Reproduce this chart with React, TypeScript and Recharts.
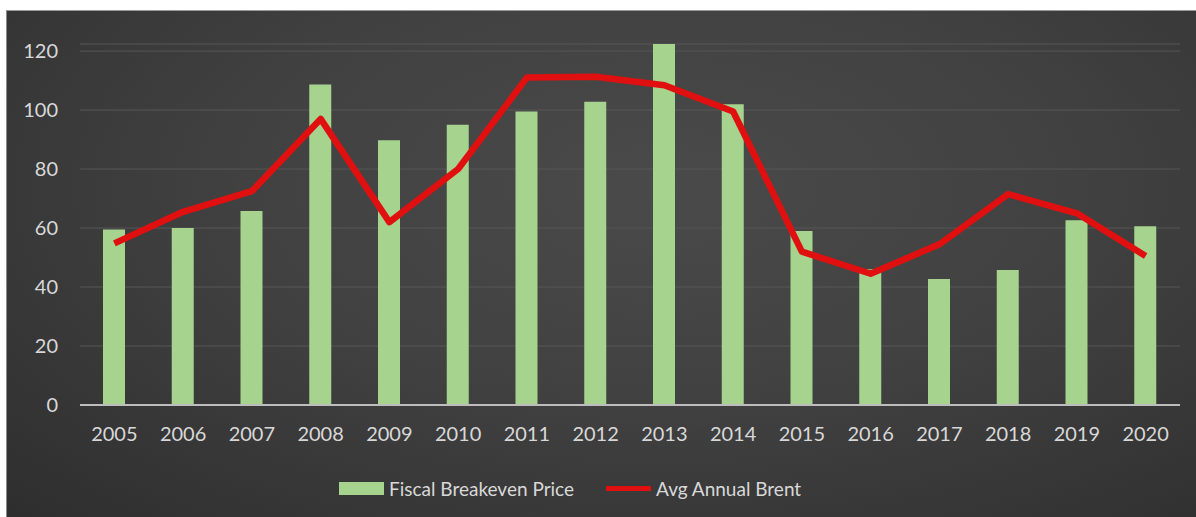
import React from "react";
import {
  ComposedChart,
  Bar,
  Line,
  XAxis,
  YAxis,
  CartesianGrid,
} from "recharts";

const years = [
  "2005", "2006", "2007", "2008", "2009", "2010", "2011", "2012",
  "2013", "2014", "2015", "2016", "2017", "2018", "2019", "2020",
];
const fiscalBreakeven = [
  59.5, 60, 65.8, 108.7, 89.8, 95, 99.5, 102.8,
  122.4, 102, 59, 46, 42.7, 45.8, 62.6, 60.6,
];
const avgBrent = [
  54.8, 65.5, 72.5, 97, 62, 80, 111, 111.3,
  108.4, 99.5, 52, 44.5, 54.5, 71.5, 65, 50.5,
];
const yTicks = [0, 20, 40, 60, 80, 100, 120];
const seriesNames = ["Fiscal Breakeven Price", "Avg Annual Brent"];

const data = years.map((y, i) => ({
  year: y,
  fiscal: fiscalBreakeven[i],
  brent: avgBrent[i],
}));

const FONT = "Lato, 'Open Sans', sans-serif";
const TEXT = "#d8d8d8";
const GREEN = "#a6d38e";
const RED = "#e01010";

const LegendBox = () => (
  <div
    style={{
      position: "absolute",
      left: 332,
      top: 466,
      display: "flex",
      alignItems: "center",
      fontFamily: FONT,
      fontSize: 19,
      color: TEXT,
      whiteSpace: "nowrap",
      height: 22,
    }}
  >
    <span
      style={{
        display: "inline-block",
        width: 45,
        height: 13,
        background: GREEN,
        marginRight: 5,
      }}
    />
    <span style={{ marginRight: 32 }}>{seriesNames[0]}</span>
    <span
      style={{
        display: "inline-block",
        width: 45,
        height: 5,
        background: RED,
        marginRight: 5,
      }}
    />
    <span>{seriesNames[1]}</span>
  </div>
);

export default function App() {
  return (
    <div
      style={{
        position: "absolute",
        left: 0,
        top: 0,
        width: 1196,
        height: 517,
        background: "#ffffff",
        overflow: "hidden",
      }}
    >
      <div
        style={{
          position: "absolute",
          left: 6,
          top: 10,
          width: 1190,
          height: 507,
          borderTop: "1px solid #9a9a9a",
          borderLeft: "1px solid #8a8a8a",
          boxSizing: "border-box",
          background:
            "radial-gradient(ellipse at 55% 35%, #4a4a4a 0%, #414141 45%, #353535 80%, #2e2e2e 100%)",
        }}
      >
        <ComposedChart
          width={1190}
          height={507}
          data={data}
          margin={{ top: 34, right: 16, bottom: 72, left: 0 }}
          style={{ position: "absolute", left: -1, top: -1 }}
        >
          <CartesianGrid vertical={false} stroke="#575757" strokeWidth={1} />
          <XAxis
            dataKey="year"
            axisLine={{ stroke: "#bdbdbd", strokeWidth: 2 }}
            tickLine={false}
            tickSize={0}
            tickMargin={22}
            height={40}
            interval={0}
            tick={{ fill: TEXT, fontSize: 20, fontFamily: FONT }}
          />
          <YAxis
            domain={[0, 120]}
            ticks={yTicks}
            width={74}
            axisLine={false}
            tickLine={false}
            tickSize={0}
            tickMargin={22}
            tick={{ fill: TEXT, fontSize: 20, fontFamily: FONT }}
          />
          <Bar
            dataKey="fiscal"
            name={seriesNames[0]}
            fill={GREEN}
            barSize={22}
            isAnimationActive={false}
          />
          <Line
            dataKey="brent"
            name={seriesNames[1]}
            type="linear"
            stroke={RED}
            strokeWidth={6.5}
            strokeLinejoin="round"
            dot={false}
            activeDot={false}
            isAnimationActive={false}
          />
        </ComposedChart>
        <LegendBox />
      </div>
    </div>
  );
}
